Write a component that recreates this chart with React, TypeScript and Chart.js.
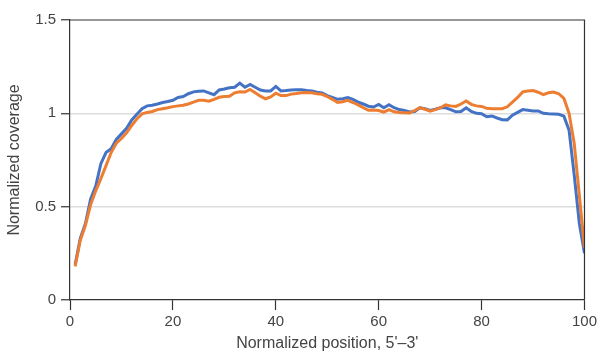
import React, { useEffect, useRef } from "react";
import { Chart, registerables } from "chart.js";

Chart.register(...registerables);

const positions: number[] = Array.from({ length: 100 }, (_, i) => i + 1);

const seriesBlue: number[] = [
  0.19, 0.33, 0.41, 0.54, 0.61, 0.73, 0.79, 0.81, 0.86, 0.89,
  0.92, 0.965, 0.995, 1.025, 1.04, 1.043, 1.05, 1.058, 1.063, 1.07,
  1.085, 1.09, 1.105, 1.115, 1.118, 1.12, 1.11, 1.1, 1.125, 1.13,
  1.137, 1.14, 1.162, 1.14, 1.155, 1.14, 1.125, 1.12, 1.12, 1.144,
  1.12, 1.122, 1.125, 1.127, 1.127, 1.122, 1.12, 1.113, 1.109, 1.095,
  1.085, 1.075, 1.078, 1.084, 1.075, 1.06, 1.05, 1.038, 1.034, 1.048,
  1.03, 1.046, 1.03, 1.02, 1.015, 1.007, 1.01, 1.03, 1.025, 1.016,
  1.022, 1.03, 1.03, 1.02, 1.008, 1.01, 1.03, 1.01, 1.0, 0.998,
  0.982, 0.986, 0.975, 0.966, 0.965, 0.99, 1.005, 1.02, 1.017, 1.013,
  1.013, 1.0, 0.998, 0.997, 0.995, 0.985, 0.91, 0.67, 0.41, 0.25,
];

const seriesOrange: number[] = [
  0.18, 0.32, 0.4, 0.51, 0.585, 0.65, 0.72, 0.79, 0.84, 0.865,
  0.895, 0.935, 0.97, 0.997, 1.005, 1.01, 1.02, 1.025, 1.03, 1.036,
  1.04, 1.043, 1.05, 1.06, 1.07, 1.07, 1.065, 1.075, 1.086, 1.09,
  1.091, 1.11, 1.115, 1.114, 1.128, 1.11, 1.092, 1.078, 1.088, 1.108,
  1.095, 1.095, 1.103, 1.106, 1.11, 1.112, 1.11, 1.105, 1.102, 1.09,
  1.075, 1.058, 1.062, 1.07, 1.058, 1.045, 1.03, 1.016, 1.018, 1.015,
  1.007, 1.02, 1.008, 1.004, 1.003, 1.002, 1.015, 1.03, 1.022, 1.012,
  1.02, 1.03, 1.045, 1.04, 1.037, 1.05, 1.066, 1.048, 1.04, 1.037,
  1.027, 1.025, 1.025, 1.025, 1.035, 1.06, 1.085, 1.115, 1.12, 1.122,
  1.113, 1.1, 1.11, 1.114, 1.105, 1.08, 1.0, 0.84, 0.56, 0.28,
];

const xTicks: number[] = [0, 20, 40, 60, 80, 100];
const yTicks: number[] = [0, 0.5, 1, 1.5];

const FONT = "'Liberation Sans', Arial, sans-serif";
const TEXT = "#444";
const AXIS = "#333";

const frame = {
  id: "frame",
  afterDraw(chart: any) {
    const { ctx, chartArea } = chart;
    ctx.save();
    ctx.strokeStyle = AXIS;
    ctx.lineWidth = 1.2;
    ctx.beginPath();
    ctx.moveTo(chartArea.left, chartArea.top);
    ctx.lineTo(chartArea.right, chartArea.top);
    ctx.lineTo(chartArea.right, chartArea.bottom);
    ctx.stroke();
    ctx.restore();
  },
};

export default function App() {
  const ref = useRef<HTMLCanvasElement>(null);

  useEffect(() => {
    document.body.style.margin = "0";
    const chart = new Chart(ref.current!, {
      type: "line",
      data: {
        labels: positions,
        datasets: [
          {
            label: "A",
            data: positions.map((p, i) => ({ x: p, y: seriesOrange[i] })),
            borderColor: "#ED7D31",
            borderWidth: 3,
            pointRadius: 0,
            tension: 0,
            fill: false,
          },
          {
            label: "B",
            data: positions.map((p, i) => ({ x: p, y: seriesBlue[i] })),
            borderColor: "#4472C4",
            borderWidth: 3,
            pointRadius: 0,
            tension: 0,
            fill: false,
          },
        ],
      },
      options: {
        animation: false,
        responsive: false,
        maintainAspectRatio: false,
        layout: { padding: { top: 20, right: 14, left: 0, bottom: 0 } },
        plugins: { legend: { display: false }, tooltip: { enabled: false } },
        scales: {
          x: {
            type: "linear",
            min: 0,
            max: 100,
            afterBuildTicks: (s: any) => {
              s.ticks = xTicks.map((v) => ({ value: v }));
            },
            afterFit: (s: any) => {
              s.height = 53;
            },
            border: { display: true, color: AXIS, width: 1.2 },
            grid: {
              drawOnChartArea: false,
              drawTicks: true,
              tickLength: 10,
              tickColor: AXIS,
              tickWidth: 1.2,
            },
            ticks: {
              color: TEXT,
              font: { family: FONT, size: 15 },
              padding: 3,
              maxRotation: 0,
            },
            title: {
              display: true,
              text: "Normalized position, 5'\u20133'",
              color: TEXT,
              font: { family: FONT, size: 16 },
              padding: { top: 0, bottom: 0 },
            },
          },
          y: {
            type: "linear",
            min: 0,
            max: 1.5,
            afterBuildTicks: (s: any) => {
              s.ticks = yTicks.map((v) => ({ value: v }));
            },
            afterFit: (s: any) => {
              s.width = 70;
            },
            border: { display: true, color: AXIS, width: 1.2 },
            grid: {
              color: (c: any) => (c.tick && (c.tick.value === 0.5 || c.tick.value === 1) ? "#dddddd" : "rgba(0,0,0,0)"),
              lineWidth: 1.5,
              drawTicks: true,
              tickLength: 9,
              tickColor: AXIS,
              tickWidth: 1.2,
            },
            ticks: {
              color: TEXT,
              font: { family: FONT, size: 15 },
              padding: 5,
              callback: (v: any) => String(v),
            },
            title: {
              display: true,
              text: "Normalized coverage",
              color: TEXT,
              font: { family: FONT, size: 16 },
              padding: { top: 5, bottom: 4 },
            },
          },
        },
      },
      plugins: [frame],
    });
    return () => chart.destroy();
  }, []);

  return (
    <div style={{ position: "relative", width: 600, height: 353 }}>
      <canvas ref={ref} width={600} height={353} style={{ display: "block", width: 600, height: 353 }} />
    </div>
  );
}
